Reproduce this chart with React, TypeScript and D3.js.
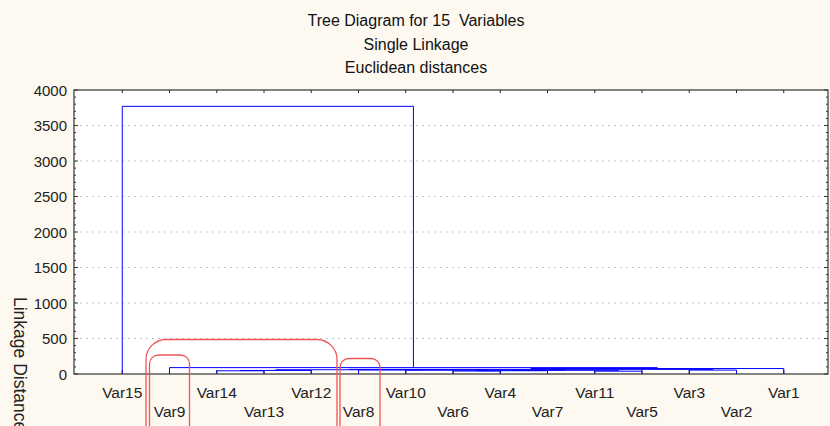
import React from "react";
import * as d3 from "d3";

const titleLines = ["Tree Diagram for 15  Variables", "Single Linkage", "Euclidean distances"];
const yLabel = "Linkage Distance";
const leafLabels = ["Var15", "Var9", "Var14", "Var13", "Var12", "Var8", "Var10", "Var6", "Var4", "Var7", "Var11", "Var5", "Var3", "Var2", "Var1"];
// merges: [leftId, rightId, height]; leaves are ids 0..14, new cluster ids start at 15
const merges: [number, number, number][] = [
  [10, 11, 40],
  [7, 8, 42],
  [2, 3, 45],
  [16, 9, 46],
  [17, 4, 50],
  [18, 15, 52],
  [6, 20, 55],
  [12, 13, 55],
  [5, 21, 57],
  [19, 23, 60],
  [24, 22, 65],
  [25, 14, 77],
  [1, 26, 90],
  [0, 27, 3770],
];
const yTicks = [0, 500, 1000, 1500, 2000, 2500, 3000, 3500, 4000];

const W = 830, H = 426;
const L = 74, R = 828, T = 90, B = 374;

export default function App() {
  const x = d3.scalePoint<string>().domain(leafLabels).range([75, 831]).padding(1);
  const y = d3.scaleLinear().domain([0, 4000]).range([B, T]);
  const minor = d3.range(0, 4001, 100);

  const pos: { x: number; h: number }[] = leafLabels.map((l) => ({ x: x(l) as number, h: 0 }));
  const segs: string[] = [];
  merges.forEach(([a, b, h]) => {
    const A = pos[a], Bc = pos[b];
    const p = d3.path();
    p.moveTo(A.x, y(A.h));
    p.lineTo(A.x, y(h));
    p.lineTo(Bc.x, y(h));
    p.lineTo(Bc.x, y(Bc.h));
    segs.push(p.toString());
    pos.push({ x: (A.x + Bc.x) / 2, h });
  });

  const titleFont = "'Liberation Sans Narrow', 'Arial Narrow', 'Liberation Sans', Arial, sans-serif";
  const font = "'Liberation Sans', Arial, sans-serif";
  const red = "#ee5555";

  return (
    <svg width={W} height={H} style={{ position: "absolute", left: 0, top: 0 }} fontFamily={font}>
      <rect x={0} y={0} width={W} height={H} fill="#fdf9f1" />
      <rect x={L} y={T} width={R - L} height={B - T} fill="#ffffff" />
      {titleLines.map((t, i) => (
        <text key={t} x={416} y={26 + i * 23.5} textAnchor="middle" fontSize={16} fontFamily={titleFont} fill="#111" style={{ whiteSpace: "pre" }}>
          {t}
        </text>
      ))}
      {yTicks.filter((v) => v > 0 && v < 4000).map((v) => (
        <line key={"g" + v} x1={L} x2={R} y1={y(v)} y2={y(v)} stroke="#c4c4c4" strokeDasharray="2,4" />
      ))}
      {minor.map((v) => (
        <g key={"m" + v}>
          <line x1={L} x2={L + (v % 500 === 0 ? 4 : 2)} y1={y(v)} y2={y(v)} stroke="#333" />
          <line x1={R} x2={R - (v % 500 === 0 ? 4 : 2)} y1={y(v)} y2={y(v)} stroke="#333" />
        </g>
      ))}
      {leafLabels.map((l) => (
        <g key={"t" + l}>
          <line x1={x(l)} x2={x(l)} y1={B} y2={B - 4} stroke="#222" />
          <line x1={x(l)} x2={x(l)} y1={T} y2={T + 3} stroke="#222" />
        </g>
      ))}
      {segs.map((d, i) => (
        <path key={"s" + i} d={d} fill="none" stroke="#0000ff" strokeWidth={1} />
      ))}
      <rect x={L} y={T} width={R - L} height={B - T} fill="none" stroke="#333" strokeWidth={1.2} />
      {yTicks.map((v) => (
        <text key={"yl" + v} x={67} y={y(v) + 5.5} textAnchor="end" fontSize={15} fill="#222">
          {v}
        </text>
      ))}
      {leafLabels.map((l, i) => (
        <text key={"xl" + l} x={x(l)} y={i % 2 === 0 ? 397.5 : 417} textAnchor="middle" fontSize={15.5} fill="#222">
          {l}
        </text>
      ))}
      <text transform="translate(14,297) rotate(90)" fontSize={17.5} fill="#222">
        {yLabel}
      </text>
      <rect x={146} y={339.5} width={191} height={110} rx={20} ry={20} fill="none" stroke={red} strokeWidth={1.3} />
      <rect x={149.5} y={355} width={40} height={90} rx={9} ry={9} fill="none" stroke={red} strokeWidth={1.3} />
      <rect x={340} y={358.5} width={40} height={90} rx={9} ry={9} fill="none" stroke={red} strokeWidth={1.3} />
    </svg>
  );
}
